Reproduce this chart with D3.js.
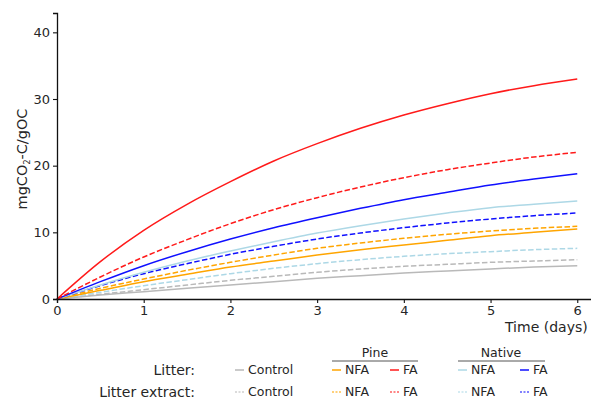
<!DOCTYPE html>
<html>
<head>
<meta charset="utf-8">
<script src="https://cdn.jsdelivr.net/npm/d3@7"></script>
<style>
  html, body { margin: 0; padding: 0; background: #fff; }
  svg { display: block; font-family: "DejaVu Sans", sans-serif; }
</style>
</head>
<body>
<svg id="chart" width="591" height="399"></svg>
<script>
// Cumulative CO2 release over incubation time (days)
const days = [0, 0.5, 1, 1.5, 2, 2.5, 3, 3.5, 4, 4.5, 5, 5.5, 6];

// Litter treatments
const litterControl   = [0, 0.6, 1.1, 1.6, 2.1, 2.6, 3.1, 3.5, 3.9, 4.2, 4.5, 4.8, 5.0];
const litterPineNFA   = [0, 1.3, 2.6, 3.7, 4.8, 5.7, 6.6, 7.4, 8.1, 8.8, 9.5, 10.0, 10.5];
const litterPineFA    = [0, 5.6, 10.3, 14.2, 17.6, 20.7, 23.3, 25.6, 27.6, 29.3, 30.8, 32.0, 33.0];
const litterNativeNFA = [0, 2.1, 4.0, 5.7, 7.2, 8.6, 9.9, 11.0, 12.0, 12.9, 13.7, 14.2, 14.7];
const litterNativeFA  = [0, 2.6, 5.0, 7.1, 9.0, 10.7, 12.2, 13.6, 14.9, 16.0, 17.1, 18.0, 18.8];

// Litter extract treatments
const extractControl   = [0, 0.7, 1.4, 2.1, 2.8, 3.4, 4.0, 4.5, 4.9, 5.2, 5.5, 5.7, 5.9];
const extractPineNFA   = [0, 1.6, 3.0, 4.3, 5.5, 6.6, 7.6, 8.4, 9.1, 9.7, 10.2, 10.6, 10.9];
const extractPineFA    = [0, 3.3, 6.3, 8.9, 11.3, 13.4, 15.2, 16.8, 18.2, 19.4, 20.4, 21.3, 22.0];
const extractNativeNFA = [0, 1.0, 2.0, 2.9, 3.8, 4.6, 5.3, 5.9, 6.4, 6.8, 7.1, 7.4, 7.6];
const extractNativeFA  = [0, 2.0, 3.8, 5.3, 6.7, 7.9, 9.0, 9.9, 10.7, 11.4, 12.0, 12.5, 12.9];

const xTicks = [0, 1, 2, 3, 4, 5, 6];
const yTicks = [0, 10, 20, 30, 40];

const colors = {
  control: "#b9b9b9",
  pineNFA: "#ffa500",
  pineFA: "#ff1a1a",
  nativeNFA: "#add8e6",
  nativeFA: "#1010ff"
};

const series = [
  { values: litterControl,    color: colors.control,   dashed: false },
  { values: extractControl,   color: colors.control,   dashed: true },
  { values: extractNativeNFA, color: colors.nativeNFA, dashed: true },
  { values: litterPineNFA,    color: colors.pineNFA,   dashed: false },
  { values: extractPineNFA,   color: colors.pineNFA,   dashed: true },
  { values: extractNativeFA,  color: colors.nativeFA,  dashed: true },
  { values: litterNativeNFA,  color: colors.nativeNFA, dashed: false },
  { values: litterNativeFA,   color: colors.nativeFA,  dashed: false },
  { values: extractPineFA,    color: colors.pineFA,    dashed: true },
  { values: litterPineFA,     color: colors.pineFA,    dashed: false }
];

const svg = d3.select("#chart");
const textColor = "#262626";

const x = d3.scaleLinear().domain([0, 6.17]).range([57, 592]);
const y = d3.scaleLinear().domain([0, 42.9]).range([299, 13]);

// Curves
const line = d3.line()
  .x((d, i) => x(days[i]))
  .y(d => y(d))
  .curve(d3.curveMonotoneX);

svg.append("g").selectAll("path")
  .data(series)
  .join("path")
  .attr("d", d => line(d.values))
  .attr("fill", "none")
  .attr("stroke", d => d.color)
  .attr("stroke-width", 1.5)
  .attr("stroke-dasharray", d => d.dashed ? "5.5,2.4" : null);

// Axes
const xAxis = svg.append("g")
  .attr("transform", `translate(0,${y(0)})`)
  .call(d3.axisBottom(x).tickValues(xTicks).tickFormat(d3.format("d")).tickSizeOuter(0).tickSize(4).tickPadding(3));
const yAxis = svg.append("g")
  .attr("transform", `translate(${x(0)},0)`)
  .call(d3.axisLeft(y).tickValues(yTicks).tickFormat(d3.format("d")).tickSizeOuter(0).tickSize(4).tickPadding(3));

[xAxis, yAxis].forEach(g => {
  g.select(".domain").attr("stroke", "#111").attr("stroke-width", 1.3);
  g.selectAll(".tick line").attr("stroke", "#111").attr("stroke-width", 1.1);
  g.selectAll(".tick text").attr("fill", textColor).style("font-size", "13px").style("font-family", "DejaVu Sans, sans-serif");
});

// Axis titles
const yTitle = svg.append("text")
  .attr("transform", "translate(27,159) rotate(-90)")
  .attr("text-anchor", "middle")
  .attr("fill", textColor)
  .style("font-size", "14.5px");
yTitle.append("tspan").text("mgCO");
yTitle.append("tspan").text("2").style("font-size", "8px").attr("dy", 3);
yTitle.append("tspan").text("-C/gOC").attr("dy", -3);

svg.append("text")
  .attr("x", 505).attr("y", 332)
  .attr("fill", textColor)
  .style("font-size", "14px")
  .text("Time (days)");

// Legend
const legend = svg.append("g").style("font-size", "12.5px").attr("fill", textColor);
const rowY = [370, 392];

legend.append("text").attr("x", 195).attr("y", rowY[0]).attr("dy", "0.35em")
  .attr("text-anchor", "end").style("font-size", "14px").text("Litter:");
legend.append("text").attr("x", 195).attr("y", rowY[1]).attr("dy", "0.35em")
  .attr("text-anchor", "end").style("font-size", "14px").text("Litter extract:");

const groups = [
  { title: null,     cx: null, u: null, items: [{ x: 235, label: "Control", color: colors.control }] },
  { title: "Pine",   cx: 375, u: [332, 418], items: [
      { x: 332, label: "NFA", color: colors.pineNFA },
      { x: 390, label: "FA",  color: colors.pineFA } ] },
  { title: "Native", cx: 501, u: [458, 545], items: [
      { x: 458, label: "NFA", color: colors.nativeNFA },
      { x: 520, label: "FA",  color: colors.nativeFA } ] }
];

groups.forEach(g => {
  if (g.title) {
    legend.append("text").attr("x", g.cx).attr("y", 353).attr("dy", "0.35em")
      .attr("text-anchor", "middle").text(g.title);
    legend.append("line").attr("x1", g.u[0]).attr("x2", g.u[1])
      .attr("y1", 361).attr("y2", 361).attr("stroke", "#555").attr("stroke-width", 1);
  }
  g.items.forEach(it => {
    rowY.forEach((ry, r) => {
      legend.append("line")
        .attr("x1", it.x).attr("x2", it.x + 9).attr("y1", ry).attr("y2", ry)
        .attr("stroke", it.color).attr("stroke-width", 1.5)
        .attr("stroke-opacity", r === 0 ? 1 : 0.7)
        .attr("stroke-dasharray", r === 1 ? "2,1.5" : null);
      legend.append("text").attr("x", it.x + 13).attr("y", ry).attr("dy", "0.35em").text(it.label);
    });
  });
});
</script>
</body>
</html>
